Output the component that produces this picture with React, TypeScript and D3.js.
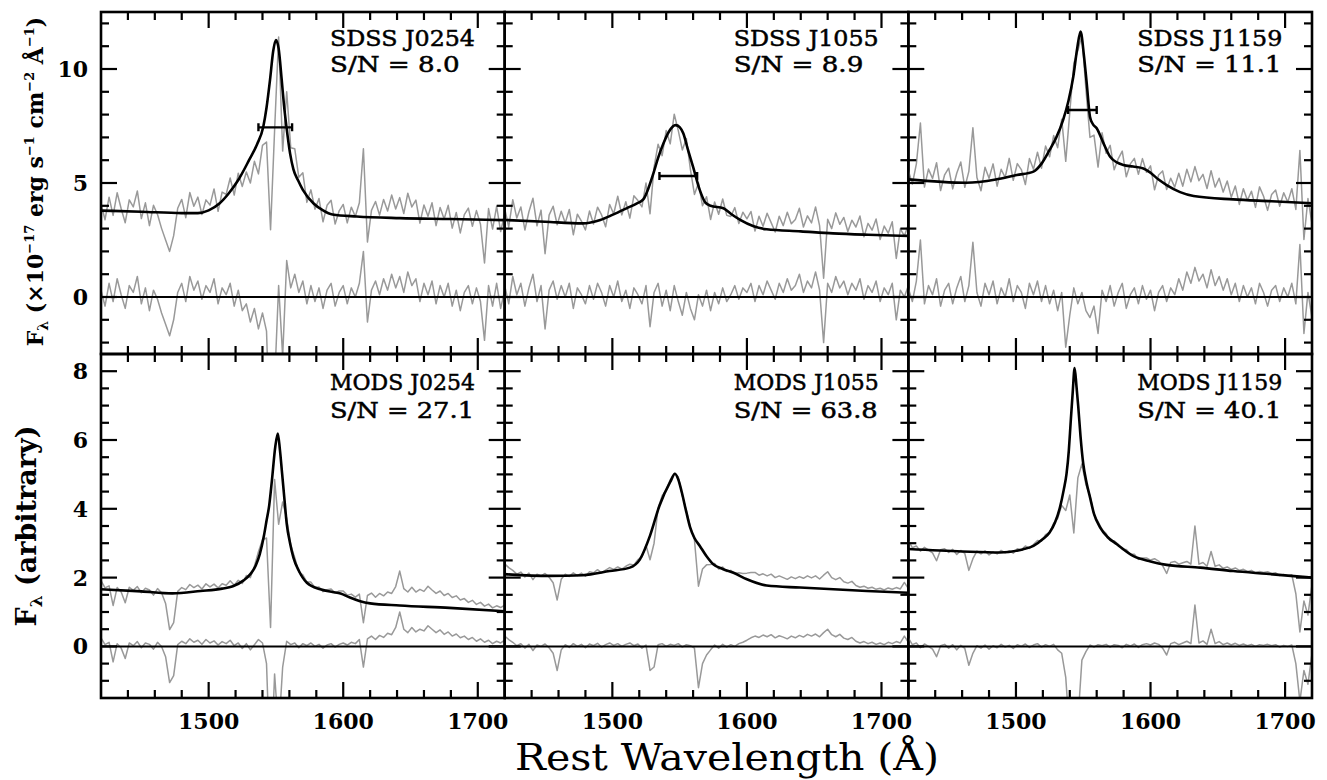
import React from "react";
import * as d3 from "d3";

// Wavelength grid of the sampled spectra (rest frame, Å)
const wave = d3.range(1420, 1721, 3);

const objects = ["J0254", "J1055", "J1159"];
const sdssSN = ["8.0", "8.9", "11.1"];
const modsSN = ["27.1", "63.8", "40.1"];
const xTickLabels = [1500, 1600, 1700];
const topYTickLabels = [0, 5, 10];
const bottomYTickLabels = [0, 2, 4, 6, 8];

// FWHM markers on the SDSS fits
const fwhmLevel = [7.44, 5.31, 8.2];
const fwhmLo = [1537, 1535, 1538.7];
const fwhmHi = [1562, 1563, 1560];

// Model fits [wavelength, flux]
const sdssJ0254Fit = [[1420,3.79],[1450,3.74],[1480,3.68],[1492,3.68],[1500,3.8],[1508,4.1],[1515,4.55],[1522,5.13],[1530,6.0],[1536,6.7],[1540.6,7.47],[1543,8.3],[1545.6,9.52],[1548,10.8],[1550,11.27],[1552,10.9],[1554.3,9.52],[1556,8.4],[1557.8,7.47],[1560.5,6.3],[1563,5.6],[1566.6,5.1],[1570,4.7],[1578,4.1],[1585,3.8],[1592,3.62],[1610,3.53],[1642,3.46],[1680,3.42],[1720,3.37]];
const sdssJ1055Fit = [[1420,3.38],[1450,3.3],[1478,3.23],[1491,3.38],[1500,3.6],[1510.6,3.89],[1518,4.1],[1523,4.28],[1527,4.8],[1530.5,5.42],[1534,6.1],[1538,6.74],[1542,7.25],[1547,7.54],[1550,7.45],[1552.7,7.18],[1556,6.5],[1560,5.71],[1565,4.69],[1569,4.15],[1573,4.0],[1582.5,3.89],[1588,3.65],[1595,3.38],[1605,3.1],[1614.7,2.97],[1640,2.88],[1664,2.79],[1690,2.73],[1720,2.68]];
const sdssJ1159Fit = [[1420,5.16],[1463,5.01],[1485,5.15],[1500.6,5.35],[1513,5.5],[1519,5.85],[1525,6.45],[1530,7.0],[1535,7.76],[1539,8.6],[1542.6,9.66],[1545.5,10.9],[1548,11.64],[1550.5,10.6],[1552.6,9.37],[1555,7.91],[1557,7.6],[1560,7.4],[1565,6.75],[1570,6.15],[1575,5.9],[1579.8,5.79],[1587,5.72],[1594.7,5.64],[1600,5.45],[1606,5.15],[1612,4.91],[1622,4.6],[1632,4.43],[1661.5,4.28],[1690,4.2],[1720,4.11]];
const modsJ0254Fit = [[1420,1.66],[1450,1.6],[1473,1.54],[1494,1.61],[1510,1.68],[1518,1.75],[1526,1.92],[1531,2.1],[1535,2.35],[1538,2.68],[1541,3.2],[1543,3.65],[1545,4.1],[1547,4.82],[1549.5,5.8],[1551.4,6.19],[1553,5.7],[1554.6,5.02],[1556.5,4.2],[1558,3.57],[1560.5,3.0],[1563,2.58],[1567,2.2],[1573,1.85],[1583,1.66],[1592,1.58],[1598,1.54],[1605,1.42],[1612,1.32],[1620,1.25],[1642,1.19],[1679,1.12],[1720,1.02]];
const modsJ1055Fit = [[1420,2.1],[1453,2.05],[1478,2.07],[1498,2.19],[1513,2.29],[1520.5,2.53],[1528,3.22],[1535,4.09],[1543,4.78],[1546.6,5.02],[1549,4.85],[1551.6,4.48],[1555,3.9],[1557.8,3.46],[1561,3.15],[1565,2.92],[1570,2.62],[1575,2.39],[1582,2.25],[1590,2.14],[1600,1.95],[1614.7,1.77],[1639.5,1.71],[1689,1.61],[1720,1.56]];
const modsJ1159Fit = [[1420,2.83],[1460,2.76],[1488,2.73],[1505,2.82],[1513,2.92],[1520,3.12],[1525,3.31],[1529,3.6],[1532.7,4.04],[1535.5,4.55],[1537.6,5.02],[1539.3,5.7],[1540.6,6.48],[1542.2,7.4],[1543.6,8.09],[1545,7.55],[1546.3,6.97],[1548,6.1],[1550,5.31],[1552.5,4.75],[1555,4.34],[1558,3.85],[1562.5,3.46],[1568,3.18],[1575,2.97],[1587,2.63],[1600,2.47],[1612,2.37],[1637,2.29],[1661.5,2.19],[1686,2.11],[1720,2.0]];

// Observed spectra (on the wave grid)
const sdssJ0254Flux = [4.09,3.39,4.38,3.58,4.57,3.87,3.26,4.26,3.95,4.65,
 3.44,4.13,3.13,4.02,3.62,3.01,2.50,2.00,2.69,3.89,
 4.28,3.48,4.58,3.98,4.38,3.62,4.26,4.03,4.74,3.76,
 4.60,4.50,5.22,4.47,5.43,4.85,5.48,5.00,5.95,5.40,
 6.65,6.80,2.95,7.30,11.40,6.40,9.00,6.55,6.50,5.25,
 5.45,4.15,4.70,3.85,4.32,3.30,4.02,4.24,3.20,3.78,
 4.06,3.25,3.94,3.53,4.13,6.50,2.41,3.80,4.19,3.59,
 4.28,3.77,4.47,3.86,4.36,3.66,4.55,3.95,4.25,3.24,
 4.04,3.54,4.13,3.13,3.93,3.42,4.02,3.02,3.71,2.81,
 3.61,3.90,3.10,3.79,3.19,1.49,3.88,2.98,3.98,2.87,
 3.67];
const sdssJ0254Resid = [0.3,-0.4,0.6,-0.2,0.8,0.1,-0.5,0.5,0.2,0.9,
 -0.3,0.4,-0.6,0.3,-0.1,-0.7,-1.2,-1.7,-1.0,0.2,
 0.6,-0.2,0.9,0.3,0.7,-0.1,0.5,0.2,0.8,-0.3,
 0.4,0.1,0.6,-0.4,0.3,-0.6,-0.3,-1.1,-0.5,-1.4,
 -0.7,-1.5,-6.8,-3.8,0.5,-2.6,1.6,0.4,1.0,0.2,
 0.7,-0.3,0.5,-0.2,0.4,-0.5,0.3,0.6,-0.4,0.2,
 0.5,-0.3,0.4,0.0,0.6,2.0,-1.1,0.3,0.7,0.1,
 0.8,0.3,1.0,0.4,0.9,0.2,1.1,0.5,0.8,-0.2,
 0.6,0.1,0.7,-0.3,0.5,0.0,0.6,-0.4,0.3,-0.6,
 0.2,0.5,-0.3,0.4,-0.2,-1.9,0.5,-0.4,0.6,-0.5,
 0.3];
const sdssJ1055Flux = [3.88,3.07,4.27,3.46,3.95,2.94,3.74,4.33,3.12,3.81,
 1.90,3.59,3.98,3.17,3.76,3.25,3.84,2.73,3.63,3.33,
 2.94,3.77,3.20,3.94,3.60,3.08,4.06,3.64,4.42,3.60,
 4.18,3.46,4.44,4.23,3.95,5.00,3.65,5.70,6.70,6.20,
 7.30,6.72,8.02,7.30,6.45,6.95,5.60,4.50,5.00,4.00,
 4.40,3.40,4.17,3.63,4.30,3.58,3.53,3.92,3.22,3.72,
 3.43,3.75,2.89,3.54,3.10,3.67,3.26,2.85,3.54,3.13,
 3.72,3.21,3.40,3.89,3.07,3.56,3.25,3.95,3.13,0.82,
 3.41,3.00,3.69,3.19,3.49,2.87,3.37,3.07,3.55,2.64,
 3.23,2.93,3.42,2.52,3.11,2.80,3.30,1.69,2.99,2.68,
 3.18];
const sdssJ1055Resid = [0.5,-0.3,0.9,0.1,0.6,-0.4,0.4,1.0,-0.2,0.5,
 -1.4,0.3,0.7,-0.1,0.5,0.0,0.6,-0.5,0.4,0.1,
 -0.3,0.5,-0.1,0.6,0.2,-0.4,0.5,0.0,0.7,-0.2,
 0.3,-0.5,0.4,0.1,-0.3,0.5,-1.3,0.2,0.6,-0.4,
 0.3,-0.6,0.5,-0.2,-0.8,0.2,-0.5,-1.0,0.1,-0.4,
 0.3,-0.6,0.2,-0.3,0.4,-0.2,0.1,0.5,-0.1,0.4,
 0.2,0.6,-0.2,0.5,0.1,0.7,0.3,-0.1,0.6,0.2,
 0.8,0.3,0.5,1.0,0.2,0.7,0.4,1.1,0.3,-2.0,
 0.6,0.2,0.9,0.4,0.7,0.1,0.6,0.3,0.8,-0.1,
 0.5,0.2,0.7,-0.2,0.4,0.1,0.6,-1.0,0.3,0.0,
 0.5];
const sdssJ1159Flux = [5.56,4.95,5.84,7.63,4.82,5.61,5.20,5.89,4.67,5.36,
 5.65,4.74,5.43,5.92,4.81,5.51,7.42,5.24,4.66,5.69,
 5.21,5.84,4.86,5.60,5.24,6.08,5.12,5.85,5.59,4.93,
 6.07,5.60,6.35,5.65,6.62,6.15,7.08,6.55,7.80,5.95,
 8.10,10.25,10.80,11.50,9.10,7.00,7.10,5.70,7.20,6.30,
 6.65,5.58,6.06,6.40,5.27,5.84,6.08,5.38,6.07,5.47,
 5.75,4.70,5.35,5.53,4.71,5.21,4.82,5.43,4.86,5.60,
 5.05,5.72,5.10,5.38,4.76,5.54,4.82,5.21,4.60,5.09,
 4.38,4.87,4.06,4.75,4.24,4.64,3.93,4.83,4.42,3.80,
 4.50,4.69,3.98,4.57,4.16,4.75,3.84,6.43,2.52,4.32,
 3.21];
const sdssJ1159Resid = [0.4,-0.2,0.7,2.5,-0.3,0.5,0.1,0.8,-0.4,0.3,
 0.6,-0.3,0.4,0.9,-0.2,0.5,2.4,0.2,-0.4,0.6,
 0.1,0.7,-0.3,0.4,0.0,0.8,-0.2,0.5,0.2,-0.5,
 0.6,0.1,0.7,-0.2,0.5,-0.3,0.3,-0.6,0.2,-2.2,
 -0.8,0.4,-0.3,0.2,-0.6,-0.9,-0.4,-1.6,0.3,-0.2,
 0.5,-0.4,0.2,0.6,-0.5,0.1,0.4,-0.3,0.5,-0.1,
 0.3,-0.6,0.2,0.5,-0.2,0.4,0.1,0.8,0.3,1.1,
 0.6,1.3,0.7,1.0,0.4,1.2,0.5,0.9,0.3,0.8,
 0.1,0.6,-0.2,0.5,0.0,0.4,-0.3,0.6,0.2,-0.4,
 0.3,0.5,-0.2,0.4,0.0,0.6,-0.3,2.3,-1.6,0.2,
 -0.9];
const modsJ0254Flux = [1.91,1.70,1.76,1.19,1.71,1.58,1.27,1.72,1.63,1.74,
 1.56,1.69,1.64,1.49,1.68,1.56,1.25,0.49,0.69,1.60,
 1.71,1.65,1.80,1.71,1.78,1.67,1.82,1.73,1.81,1.70,
 1.82,1.78,1.91,1.78,1.92,1.83,2.06,2.00,2.33,2.75,
 3.10,3.15,0.55,4.85,3.55,4.20,3.72,2.95,2.58,2.16,
 2.08,1.87,1.87,1.71,1.73,1.59,1.65,1.67,1.55,1.61,
 1.61,1.49,1.52,1.43,1.52,0.69,1.48,1.55,1.43,1.54,
 1.47,1.58,1.54,1.74,2.19,1.68,1.58,1.72,1.58,1.66,
 1.60,1.75,1.64,1.54,1.61,1.48,1.54,1.42,1.47,1.35,
 1.39,1.28,1.34,1.22,1.28,1.17,1.23,1.12,1.18,1.13,
 1.20];
const modsJ0254Resid = [0.25,0.05,0.12,-0.45,0.08,-0.05,-0.35,0.1,0.02,0.14,
 -0.04,0.1,0.06,-0.08,0.12,0.0,-0.3,-1.05,-0.85,0.05,
 0.15,0.08,0.22,0.12,0.18,0.06,0.2,0.1,0.16,0.04,
 0.14,0.08,0.18,0.02,0.1,-0.06,0.08,-0.1,0.05,0.2,
 0.1,-0.5,-3.9,-0.8,-2.5,-0.6,0.15,0.05,0.1,-0.04,
 0.08,0.02,0.1,0.0,0.06,-0.05,0.04,0.08,-0.02,0.06,
 0.1,0.04,0.12,0.08,0.2,-0.6,0.22,0.3,0.2,0.32,
 0.26,0.38,0.34,0.55,1.0,0.5,0.4,0.55,0.42,0.5,
 0.45,0.6,0.5,0.4,0.48,0.35,0.42,0.3,0.36,0.25,
 0.3,0.2,0.26,0.15,0.22,0.12,0.18,0.08,0.15,0.1,
 0.18];
const modsJ1055Flux = [2.40,2.29,2.21,2.10,2.16,2.02,2.13,1.94,2.10,2.05,
 2.12,2.01,1.85,1.35,1.95,2.10,2.03,2.14,2.06,2.13,
 2.04,2.17,2.14,2.23,2.14,2.22,2.29,2.24,2.31,2.25,
 2.33,2.39,2.37,2.52,2.60,2.94,2.52,3.00,4.02,4.38,
 4.55,4.84,5.03,4.93,4.38,3.95,3.46,3.10,1.75,2.25,
 2.37,2.38,2.41,2.25,2.31,2.18,2.21,2.12,2.14,2.12,
 2.13,2.15,2.15,2.07,2.11,2.05,2.10,2.00,2.05,2.00,
 1.95,2.02,1.97,2.03,1.98,2.05,1.99,2.05,1.96,2.07,
 2.17,2.00,1.94,2.00,1.88,1.84,1.89,1.77,1.72,1.75,
 1.69,1.72,1.66,1.69,1.64,1.70,1.66,1.71,1.67,1.86,
 1.68];
const modsJ1055Resid = [0.3,0.2,0.12,0.02,0.08,-0.05,0.06,-0.12,0.04,0.0,
 0.07,-0.04,-0.2,-0.7,-0.1,0.05,-0.03,0.08,0.0,0.06,
 -0.04,0.07,0.02,0.09,-0.02,0.05,0.1,0.03,0.08,0.0,
 0.06,0.1,0.02,0.07,-0.05,0.04,-0.7,-0.6,0.05,0.08,
 0.0,0.06,0.03,0.08,-0.02,0.05,0.02,-0.05,-1.2,-0.5,
 -0.25,-0.1,0.04,-0.05,0.06,-0.02,0.05,0.0,0.08,0.12,
 0.18,0.25,0.3,0.26,0.33,0.28,0.34,0.25,0.31,0.27,
 0.22,0.3,0.25,0.32,0.27,0.35,0.3,0.36,0.28,0.4,
 0.5,0.34,0.28,0.35,0.24,0.2,0.26,0.15,0.1,0.14,
 0.08,0.12,0.06,0.1,0.05,0.12,0.08,0.14,0.1,0.3,
 0.12];
const modsJ1159Flux = [3.08,2.87,2.92,2.77,2.88,2.80,2.72,2.49,2.81,2.84,
 2.73,2.82,2.67,2.79,2.70,2.21,2.55,2.77,2.69,2.78,
 2.66,2.75,2.69,2.79,2.72,2.78,2.71,2.84,2.81,2.92,
 2.85,2.96,3.08,3.06,3.25,3.31,3.58,3.72,4.10,3.95,
 4.40,3.30,4.90,5.30,4.70,4.38,3.83,3.63,3.40,3.28,
 3.08,3.07,2.97,2.82,2.82,2.68,2.68,2.53,2.57,2.57,
 2.51,2.55,2.48,2.35,2.12,2.44,2.47,2.39,2.43,2.47,
 2.39,3.50,2.39,2.44,2.33,2.76,2.33,2.37,2.27,2.31,
 2.24,2.28,2.21,2.24,2.18,2.21,2.14,2.18,2.15,2.17,
 2.12,2.14,2.06,2.09,2.05,2.08,1.53,0.42,1.32,0.91,
 1.80];
const modsJ1159Resid = [0.25,0.05,0.1,-0.04,0.07,0.0,-0.08,-0.3,0.02,0.06,
 -0.05,0.05,-0.1,0.03,-0.06,-0.55,-0.2,0.02,-0.05,0.04,
 -0.08,0.02,-0.04,0.06,-0.02,0.03,-0.06,0.05,0.0,0.07,
 -0.03,0.04,0.08,-0.02,0.05,0.0,0.06,-0.1,-0.2,-0.9,
 -2.6,-4.6,-2.2,-0.4,-0.15,0.04,-0.02,0.05,0.02,0.06,
 -0.02,0.05,0.03,-0.04,0.06,0.01,0.07,-0.03,0.05,0.08,
 0.04,0.1,0.06,-0.05,-0.25,0.08,0.12,0.05,0.1,0.15,
 0.08,1.2,0.1,0.16,0.06,0.5,0.08,0.14,0.05,0.1,
 0.04,0.09,0.03,0.07,0.02,0.06,0.0,0.05,0.03,0.06,
 0.02,0.05,-0.02,0.03,0.0,0.04,-0.5,-1.6,-0.7,-1.1,
 -0.2];

const GRAY = "#999999";
const SERIF = "'DejaVu Serif', serif";

export default function App() {
  const W = 1327, H = 780;
  const lefts = [101, 504.7, 908.3];
  const pw = 403.7;
  const rows = [
    {
      top: 12, bottom: 354, domain: [-2.5, 12.5], minor: 1, major: 5,
      labels: topYTickLabels, inst: "SDSS", sn: sdssSN, l1: 34, l2: 60,
      fits: [sdssJ0254Fit, sdssJ1055Fit, sdssJ1159Fit],
      flux: [sdssJ0254Flux, sdssJ1055Flux, sdssJ1159Flux],
      resid: [sdssJ0254Resid, sdssJ1055Resid, sdssJ1159Resid],
      fwhm: true,
    },
    {
      top: 354, bottom: 698, domain: [-1.5, 8.5], minor: 0.5, major: 2,
      labels: bottomYTickLabels, inst: "MODS", sn: modsSN, l1: 36, l2: 64,
      fits: [modsJ0254Fit, modsJ1055Fit, modsJ1159Fit],
      flux: [modsJ0254Flux, modsJ1055Flux, modsJ1159Flux],
      resid: [modsJ0254Resid, modsJ1055Resid, modsJ1159Resid],
      fwhm: false,
    },
  ];
  const xTicks = d3.range(1440, 1720, 20);
  const MAJ = 16, MIN = 8;

  const panels: any[] = [];
  rows.forEach((row, r) => {
    const y = d3.scaleLinear().domain(row.domain).range([row.bottom, row.top]);
    const yTicks = d3.range(Math.ceil(row.domain[0] / row.minor) * row.minor, row.domain[1], row.minor)
      .filter((v) => v > row.domain[0] + 1e-6 && v < row.domain[1] - 1e-6);
    lefts.forEach((left, c) => {
      const x = d3.scaleLinear().domain([1420, 1720]).range([left, left + pw]);
      const dataLine = d3.line<number>().x((_, i) => x(wave[i])).y((d) => y(d));
      const fitLine = d3.line<number[]>().x((d) => x(d[0])).y((d) => y(d[1])).curve(d3.curveMonotoneX);
      const id = `clip-${r}-${c}`;
      const isMaj = (v: number) => Math.abs(v / row.major - Math.round(v / row.major)) < 1e-6;
      const snText = `S/N = ${row.sn[c]}`;
      panels.push(
        <g key={id}>
          <clipPath id={id}>
            <rect x={left} y={row.top} width={pw} height={row.bottom - row.top} />
          </clipPath>
          <g clipPath={`url(#${id})`}>
            <path d={dataLine(row.flux[c]) || ""} fill="none" stroke={GRAY} strokeWidth={1.5} strokeLinejoin="round" />
            <path d={dataLine(row.resid[c]) || ""} fill="none" stroke={GRAY} strokeWidth={1.5} strokeLinejoin="round" />
            <line x1={left} x2={left + pw} y1={y(0)} y2={y(0)} stroke="#000" strokeWidth={2} />
            <path d={fitLine(row.fits[c] as number[][]) || ""} fill="none" stroke="#000" strokeWidth={2.6} strokeLinejoin="round" />
            {row.fwhm && (
              <g stroke="#000" strokeWidth={2.4}>
                <line x1={x(fwhmLo[c])} x2={x(fwhmHi[c])} y1={y(fwhmLevel[c])} y2={y(fwhmLevel[c])} />
                <line x1={x(fwhmLo[c])} x2={x(fwhmLo[c])} y1={y(fwhmLevel[c]) - 4} y2={y(fwhmLevel[c]) + 4} />
                <line x1={x(fwhmHi[c])} x2={x(fwhmHi[c])} y1={y(fwhmLevel[c]) - 4} y2={y(fwhmLevel[c]) + 4} />
              </g>
            )}
          </g>
          <g stroke="#000" strokeWidth={2.2}>
            {xTicks.map((t) => {
              const L = t % 100 === 0 ? MAJ : MIN;
              return (
                <g key={`xt${t}`}>
                  <line x1={x(t)} x2={x(t)} y1={row.bottom} y2={row.bottom - L} />
                  <line x1={x(t)} x2={x(t)} y1={row.top} y2={row.top + L} />
                </g>
              );
            })}
            {yTicks.map((t) => {
              const L = isMaj(t) ? MAJ : MIN;
              return (
                <g key={`yt${t}`}>
                  <line x1={left} x2={left + L} y1={y(t)} y2={y(t)} />
                  <line x1={left + pw} x2={left + pw - L} y1={y(t)} y2={y(t)} />
                </g>
              );
            })}
          </g>
          <rect x={left} y={row.top} width={pw} height={row.bottom - row.top} fill="none" stroke="#000" strokeWidth={2.6} />
          {c === 0 && row.labels.map((v) => (
            <text key={`yl${v}`} x={left - 13} y={y(v)} dy="0.36em" textAnchor="end"
              fontFamily={SERIF} fontWeight="bold" fontSize={22}>{v}</text>
          ))}
          {r === 1 && xTickLabels.map((v) => (
            <text key={`xl${v}`} x={x(v)} y={729} textAnchor="middle"
              fontFamily={SERIF} fontWeight="bold" fontSize={22}>{v}</text>
          ))}
          <text x={left + 229} y={row.top + row.l1} fontFamily={SERIF} fontSize={22}
            textLength={145} lengthAdjust="spacingAndGlyphs" stroke="#000" strokeWidth={0.5}>
            {`${row.inst} ${objects[c]}`}
          </text>
          <text x={left + 229} y={row.top + row.l2} fontFamily={SERIF} fontSize={22}
            textLength={snText.length * 14.4} lengthAdjust="spacingAndGlyphs" stroke="#000" strokeWidth={0.5}>
            {snText}
          </text>
        </g>
      );
    });
  });

  return (
    <svg width={W} height={H} style={{ position: "absolute", left: 0, top: 0, background: "#fff" }}>
      <rect x={0} y={0} width={W} height={H} fill="#fff" />
      {panels}
      <text transform="translate(43,181.5) rotate(-90)" textAnchor="middle" fontFamily={SERIF} fontWeight="bold" fontSize={22}>
        F<tspan fontSize={14} dy={5}>λ</tspan>
        <tspan dy={-5}> (×10</tspan><tspan fontSize={13} dy={-9}>−17</tspan>
        <tspan dy={9}> erg s</tspan><tspan fontSize={13} dy={-9}>−1</tspan>
        <tspan dy={9}> cm</tspan><tspan fontSize={13} dy={-9}>−2</tspan>
        <tspan dy={9}> Å</tspan><tspan fontSize={13} dy={-9}>−1</tspan>
        <tspan dy={9}>)</tspan>
      </text>
      <text transform="translate(36,526) rotate(-90)" textAnchor="middle" fontFamily={SERIF} fontWeight="bold" fontSize={27}>
        F<tspan fontSize={17} dy={6}>λ</tspan><tspan dy={-6}> (arbitrary)</tspan>
      </text>
      <text x={515} y={770} fontFamily={SERIF} fontSize={37} textLength={424} lengthAdjust="spacingAndGlyphs">
        Rest Wavelength (Å)
      </text>
    </svg>
  );
}
